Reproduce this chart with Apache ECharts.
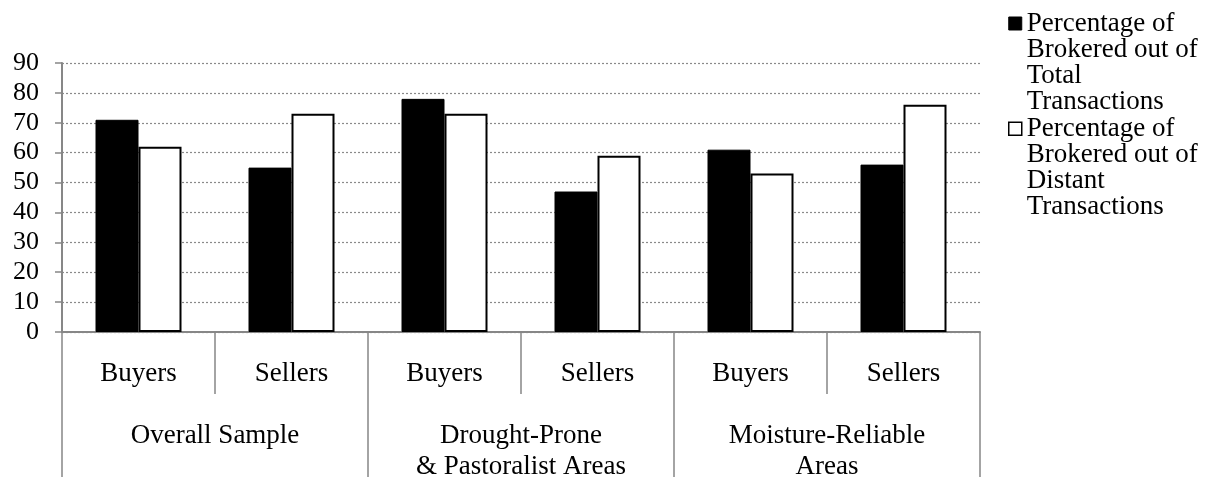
<!DOCTYPE html>
<html>
<head>
<meta charset="utf-8">
<script src="https://cdn.jsdelivr.net/npm/echarts@6/dist/echarts.min.js"></script>
<style>
  html, body { margin: 0; padding: 0; background: #ffffff; }
  #chart { width: 1211px; height: 477px; }
</style>
</head>
<body>
<div id="chart"></div>
<script>
// Sub-categories (first level of the x axis) and their regional groups (second level)
const roles = ['Buyers', 'Sellers', 'Buyers', 'Sellers', 'Buyers', 'Sellers'];
const regions = ['Overall Sample', 'Drought-Prone\n& Pastoralist Areas', 'Moisture-Reliable\nAreas'];

// Percentages per role within each region
const brokeredOfTotal = [71, 55, 78, 47, 61, 56];
const brokeredOfDistant = [62, 73, 73, 59, 53, 76];

const seriesNames = [
  'Percentage of\nBrokered out of\nTotal\nTransactions',
  'Percentage of\nBrokered out of\nDistant\nTransactions'
];

const yTicks = { min: 0, max: 90, interval: 10 };

const FONT = '"Liberation Serif", "Times New Roman", serif';
const AXIS_GREY = '#878787';
const LEGEND_LINE = 26;
const LEGEND_LINES = 4;
const LEGEND_BLOCK = LEGEND_LINE * LEGEND_LINES;

// Legend swatch: a 13px square sitting on the first text line; the bare
// move-to points stretch the symbol box to the full height of the label
const swatch = 'path://M0,0 M0,6.5H13V19.5H0Z M0,' + LEGEND_BLOCK;

const chart = echarts.init(document.getElementById('chart'), null, { renderer: 'canvas' });

chart.setOption({
  backgroundColor: '#ffffff',
  animation: false,
  textStyle: { fontFamily: FONT, color: '#000' },
  grid: { left: 62, right: 231, top: 63, bottom: 145, containLabel: false, outerBoundsMode: 'none' },
  legend: {
    orient: 'vertical',
    left: 1008,
    top: 10,
    padding: 0,
    itemWidth: 13,
    itemHeight: LEGEND_BLOCK,
    itemGap: 0,
    symbolKeepAspect: true,
    selectedMode: false,
    textStyle: {
      fontFamily: FONT,
      fontSize: 27,
      color: '#000',
      lineHeight: LEGEND_LINE
    },
    data: [
      { name: seriesNames[0], icon: swatch, itemStyle: { color: '#000', borderColor: '#000', borderWidth: 1 } },
      { name: seriesNames[1], icon: swatch, itemStyle: { color: '#fff', borderColor: '#000', borderWidth: 1.5 } }
    ]
  },
  xAxis: [
    {
      type: 'category',
      data: roles,
      position: 'bottom',
      axisLine: { show: true, lineStyle: { color: AXIS_GREY, width: 2 } },
      axisTick: { show: true, interval: 0, length: 62, lineStyle: { color: AXIS_GREY, width: 1.5 } },
      axisLabel: { interval: 0, margin: 28, fontFamily: FONT, fontSize: 27, color: '#000', lineHeight: 27 },
      splitLine: { show: false }
    },
    {
      type: 'category',
      data: regions,
      position: 'bottom',
      axisLine: { show: false },
      axisTick: { show: true, interval: 0, length: 145, lineStyle: { color: AXIS_GREY, width: 1.5 } },
      axisLabel: { interval: 0, margin: 88, fontFamily: FONT, fontSize: 27, color: '#000', lineHeight: 31, verticalAlign: 'top' },
      splitLine: { show: false }
    }
  ],
  yAxis: {
    type: 'value',
    min: yTicks.min,
    max: yTicks.max,
    interval: yTicks.interval,
    axisLine: { show: true, lineStyle: { color: AXIS_GREY, width: 2 } },
    axisTick: { show: true, inside: false, length: 7, lineStyle: { color: AXIS_GREY, width: 1.5 } },
    axisLabel: { margin: 23, fontFamily: FONT, fontSize: 26, color: '#000' },
    splitLine: { show: true, lineStyle: { color: '#8a8a8a', width: 1.2, type: [2, 2] } }
  },
  series: [
    {
      name: seriesNames[0],
      type: 'bar',
      xAxisIndex: 0,
      data: brokeredOfTotal,
      barWidth: 43,
      barGap: '0%',
      itemStyle: { color: '#000', borderColor: '#000', borderWidth: 1 }
    },
    {
      name: seriesNames[1],
      type: 'bar',
      xAxisIndex: 0,
      data: brokeredOfDistant,
      barWidth: 43,
      barGap: '0%',
      itemStyle: { color: '#fff', borderColor: '#000', borderWidth: 2 }
    }
  ]
});
</script>
</body>
</html>
